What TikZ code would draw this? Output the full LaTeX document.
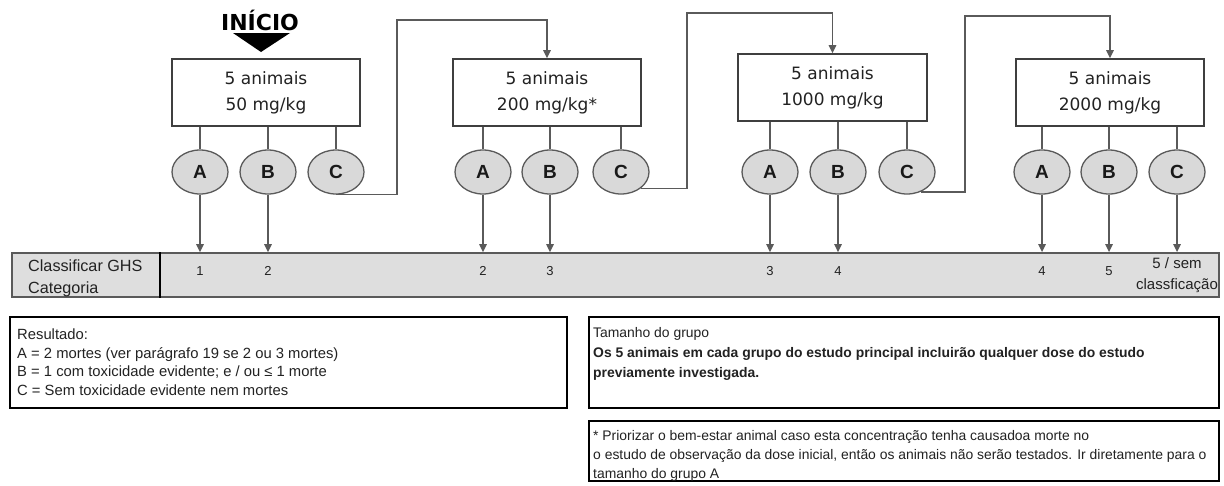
\documentclass[tikz,border=0pt]{standalone}
\usepackage{fontspec}
\setmainfont{Liberation Sans}
\newfontfamily\dosefont{DejaVu Sans}
\usetikzlibrary{arrows.meta,shapes.geometric}
\definecolor{edge}{HTML}{5A5A5A}
\definecolor{disc}{HTML}{D9D9D9}
\definecolor{band}{HTML}{DEDEDE}
\definecolor{ink}{HTML}{222222}
\newcommand\fsz[2]{\fontsize{#1}{#2}\selectfont}
\begin{document}
\begin{tikzpicture}[x=1pt,y=-1pt,
  dosebox/.style={draw=edge!70!black, line width=1.6pt, fill=white,
    minimum width=188pt, minimum height=67pt, inner sep=0pt,
    font=\dosefont\fsz{17}{26}, align=center, text=ink},
  outcome/.style={ellipse, draw=edge, line width=1.3pt, fill=disc,
    minimum width=56pt, minimum height=44pt, inner sep=0pt,
    font=\fsz{19}{19}\bfseries, text=black!90},
  link/.style={draw=edge, line width=1.4pt},
  flow/.style={link, -{Triangle[length=8pt,width=7.5pt]}},
  cat/.style={font=\fsz{13}{13}, text=ink, inner sep=0pt},
  panel/.style={draw=black, line width=2.8pt, fill=white, inner sep=0pt},
  ptext/.style={inner sep=0pt, anchor=north west, align=left, text=ink}
]
\useasboundingbox (0,0) rectangle (1224,485);

% start marker
\node[font=\dosefont\bfseries\fsz{22}{22}, inner sep=0pt, anchor=base] (start) at (260,30) {INÍCIO};
\fill[black] (233,33) -- (290,33) -- (261,52) -- cycle;

% dose groups
\node[dosebox] (d1) at (266,92.5) {5 animais\\50 mg/kg};
\node[dosebox] (d2) at (547,92.5) {5 animais\\200 mg/kg*};
\node[dosebox, minimum width=189pt] (d3) at (832.5,87.5) {5 animais\\1000 mg/kg};
\node[dosebox] (d4) at (1110,92.5) {5 animais\\2000 mg/kg};

% outcomes
\node[outcome] (a1) at (200,172) {A};
\node[outcome] (b1) at (268,172) {B};
\node[outcome] (c1) at (336,172) {C};
\node[outcome] (a2) at (483,172) {A};
\node[outcome] (b2) at (550,172) {B};
\node[outcome] (c2) at (621,172) {C};
\node[outcome] (a3) at (770,172) {A};
\node[outcome] (b3) at (838,172) {B};
\node[outcome] (c3) at (907,172) {C};
\node[outcome] (a4) at (1042,172) {A};
\node[outcome] (b4) at (1109,172) {B};
\node[outcome] (c4) at (1177,172) {C};

\foreach \s in {1,...,4}{
  \foreach \o in {a,b,c}{
    \draw[link] (d\s.south -| \o\s.north) -- (\o\s.north);
  }
}

% classification band
\node[draw=edge, line width=1.8pt, fill=band, minimum width=1207pt,
      minimum height=44pt, inner sep=0pt] (bar) at (615.5,275) {};
\coordinate (dv) at (160,0);
\draw[black, line width=1.6pt] (bar.north -| dv) -- (bar.south -| dv);
\node[cat, font=\fsz{16.2}{22}, align=left, anchor=west] (ghs) at (28,278) {Classificar GHS\\Categoria};

\node[cat] (k1) at (200,271) {1};
\node[cat] (k2) at (268,271) {2};
\node[cat] (k3) at (483,271) {2};
\node[cat] (k4) at (550,271) {3};
\node[cat] (k5) at (770,271) {3};
\node[cat] (k6) at (838,271) {4};
\node[cat] (k7) at (1042,271) {4};
\node[cat] (k8) at (1109,271) {5};
\node[cat, font=\fsz{15}{21}, align=center] (k9) at (1177,275) {5 / sem\\classficação};

% outcome to category
\foreach \n in {a1,b1,a2,b2,a3,b3,a4,b4,c4}{
  \draw[flow] (\n.south) -- (\n.south |- bar.north);
}

% escalation to the next dose
\coordinate (j1) at (397,20);
\coordinate (j2) at (687,13);
\coordinate (j3) at (965,16);
\draw[flow] (c1.south) -| (j1) -| (d2.north);
\draw[flow] (c2.-40) -| (j2) -| (d3.north);
\draw[flow] (c3.-55) -| (j3) -| (d4.north);

% notes
\node[panel, minimum width=557pt, minimum height=91pt] (res) at (288.5,362.5) {};
\node[panel, minimum width=630pt, minimum height=91pt] (grp) at (904,362.5) {};
\node[panel, minimum width=630pt, minimum height=60pt] (note) at (904,451) {};

\node[ptext, font=\fsz{14.8}{18.4}] (rtxt) at (17,329)
  {Resultado:\\A = 2 mortes (ver parágrafo 19 se 2 ou 3 mortes)\\B = 1 com toxicidade evidente; e / ou ≤ 1 morte\\C = Sem toxicidade evidente nem mortes};
\node[ptext, font=\fsz{13.9}{20}] (gtxt) at (593,327)
  {Tamanho do grupo\\\textbf{Os 5 animais em cada grupo do estudo principal incluirão qualquer dose do estudo}\\\textbf{previamente investigada.}};
\node[ptext, font=\fsz{13.9}{19}] (ntxt) at (593,430)
  {* Priorizar o bem-estar animal caso esta concentração tenha causadoa morte no\\o estudo de observação da dose inicial, então os animais não serão testados. Ir diretamente para o\\tamanho do grupo A};
\end{tikzpicture}
\end{document}
